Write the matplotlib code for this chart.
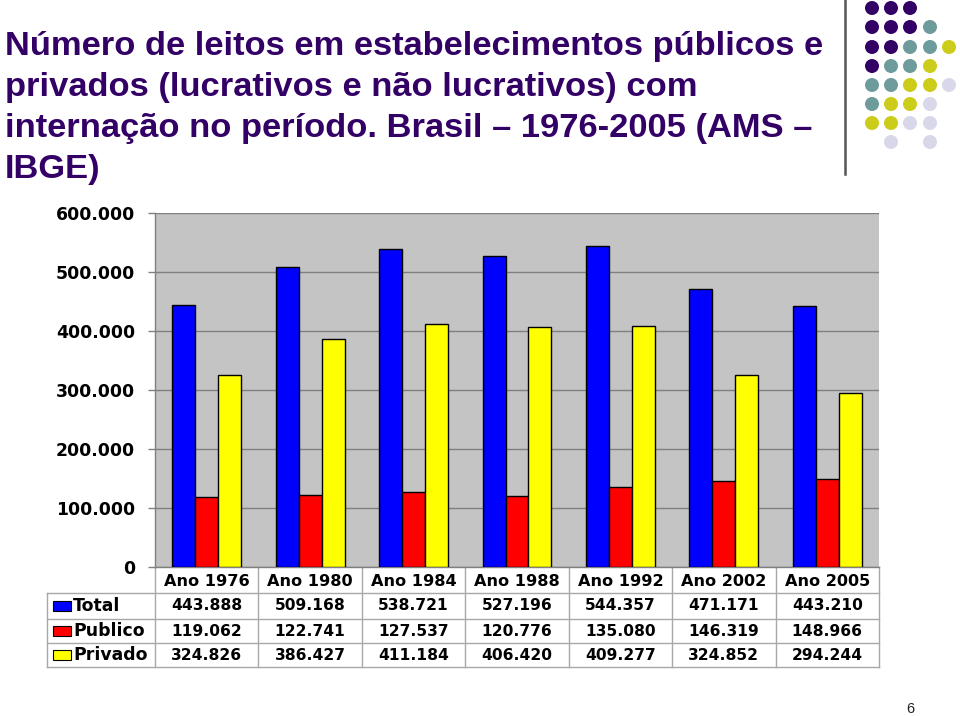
import matplotlib
matplotlib.use("Agg")
import matplotlib.pyplot as plt
from matplotlib.patches import Rectangle, Circle
from matplotlib.transforms import blended_transform_factory
from matplotlib.lines import Line2D

plt.rcParams['font.family'] = ['Liberation Sans', 'DejaVu Sans']

# ---- data ----
categories = ["Ano 1976", "Ano 1980", "Ano 1984", "Ano 1988", "Ano 1992", "Ano 2002", "Ano 2005"]
series_names = ["Total", "Publico", "Privado"]
total = [443888, 509168, 538721, 527196, 544357, 471171, 443210]
publico = [119062, 122741, 127537, 120776, 135080, 146319, 148966]
privado = [324826, 386427, 411184, 406420, 409277, 324852, 294244]
series_colors = ["#0000FF", "#FF0000", "#FFFF00"]
yticks = [0, 100000, 200000, 300000, 400000, 500000, 600000]

title_lines = ["Número de leitos em estabelecimentos públicos e",
               "privados (lucrativos e não lucrativos) com",
               "internação no período. Brasil – 1976-2005 (AMS –",
               "IBGE)"]
title_color = "#330066"

W, H = 960, 716
fig = plt.figure(figsize=(W / 100, H / 100), dpi=100)
fig.patch.set_facecolor("white")

def fx(x):
    return x / W

def fy(y):
    return 1 - y / H

# ---- title ----
baselines = [55, 96, 137, 178]
for line, b in zip(title_lines, baselines):
    fig.text(fx(5), fy(b), line, fontsize=24.8, fontweight="bold", color=title_color,
             ha="left", va="baseline")

# ---- decoration (dots + vertical rule) ----
dot_pattern = ["PPP..",
               "PPPT.",
               "PPTTY",
               "PTTY.",
               "TTYYL",
               "TYYL.",
               "YYLL.",
               ".L.L."]
dot_colors = {"P": "#330066", "T": "#6E9B9B", "Y": "#CCCC1A", "L": "#D8D8EA"}
dot_x = [872, 891, 910, 930, 949]
dot_y = [8, 27, 47, 66, 85, 104, 123, 142]
for r, row in enumerate(dot_pattern):
    for c, ch in enumerate(row):
        if ch in dot_colors:
            fig.patches.append(Circle((dot_x[c], H - dot_y[r]), 7, transform=None,
                                      facecolor=dot_colors[ch], edgecolor="none"))
fig.lines.append(Line2D([fx(845), fx(845)], [fy(0), fy(174)], transform=fig.transFigure,
                        color="#555555", linewidth=1.8))

# ---- chart axes ----
left, right, top, bottom = 155, 879, 213, 567
ax = fig.add_axes([fx(left), fy(bottom), fx(right - left), (bottom - top) / H])
ax.set_facecolor("#C4C4C4")
n = len(categories)
ax.set_xlim(-0.5, n - 0.5)
ax.set_ylim(0, 600000)
bw = 2 / 9
for i, (vals, col) in enumerate(zip([total, publico, privado], series_colors)):
    ax.bar([k + (i - 1) * bw for k in range(n)], vals, width=bw, color=col,
           edgecolor="black", linewidth=1.0, zorder=3)
ax.set_yticks(yticks)
ax.set_yticklabels([f"{v:,.0f}".replace(",", ".") for v in yticks],
                   fontsize=12.4, fontweight="bold", family="DejaVu Sans")
ax.yaxis.grid(True, color="#808080", linewidth=1.0, zorder=0)
ax.set_axisbelow(True)
ax.tick_params(axis="y", length=5, color="#808080", pad=9.5, width=1)
ax.tick_params(axis="x", length=0, labelbottom=False)
for s in ["top", "right"]:
    ax.spines[s].set_visible(False)
for s in ["left", "bottom"]:
    ax.spines[s].set_color("#808080")
    ax.spines[s].set_linewidth(1.0)

# ---- data table ----
tr = blended_transform_factory(ax.transData, ax.transAxes)
ph = bottom - top
colw = (right - left) / n

def ay(ypix):
    return (bottom - ypix) / ph

row_edges = [567, 593, 619, 643, 667]
label_left = -0.5 - (left - 47) / colw
grid_col = "#A8A8A8"
for yy in row_edges[1:]:
    ax.plot([label_left, n - 0.5], [ay(yy), ay(yy)], transform=tr, color=grid_col,
            linewidth=1, clip_on=False)
for k in range(n + 1):
    ax.plot([k - 0.5, k - 0.5], [ay(row_edges[0]), ay(row_edges[-1])], transform=tr,
            color=grid_col, linewidth=1, clip_on=False)
ax.plot([label_left, label_left], [ay(row_edges[1]), ay(row_edges[-1])], transform=tr,
        color=grid_col, linewidth=1, clip_on=False)

for k, cat in enumerate(categories):
    ax.text(k, ay((row_edges[0] + row_edges[1]) / 2 + 1), cat, transform=tr,
            ha="center", va="center", fontsize=11.6, fontweight="bold", family="DejaVu Sans")

key_w = (70 - 52) / colw
for r, (name, vals, col) in enumerate(zip(series_names, [total, publico, privado], series_colors)):
    yc = (row_edges[r + 1] + row_edges[r + 2]) / 2
    for k, v in enumerate(vals):
        ax.text(k, ay(yc), f"{v:,.0f}".replace(",", "."), transform=tr,
                ha="center", va="center", fontsize=11.2, fontweight="bold", family="DejaVu Sans")
    kx = label_left + (53 - 47) / colw
    ax.add_patch(Rectangle((kx, ay(yc + 5)), key_w, ay(yc - 5) - ay(yc + 5), transform=tr,
                           facecolor=col, edgecolor="black", linewidth=0.8, clip_on=False))
    ax.text(label_left + (73 - 47) / colw, ay(yc), name, transform=tr,
            ha="left", va="center", fontsize=12.4, fontweight="bold", family="DejaVu Sans")

# ---- page number ----
fig.text(fx(910), fy(709), "6", fontsize=10.5, color="#222222", ha="center", va="center")

fig.savefig("out.png", dpi=100)
